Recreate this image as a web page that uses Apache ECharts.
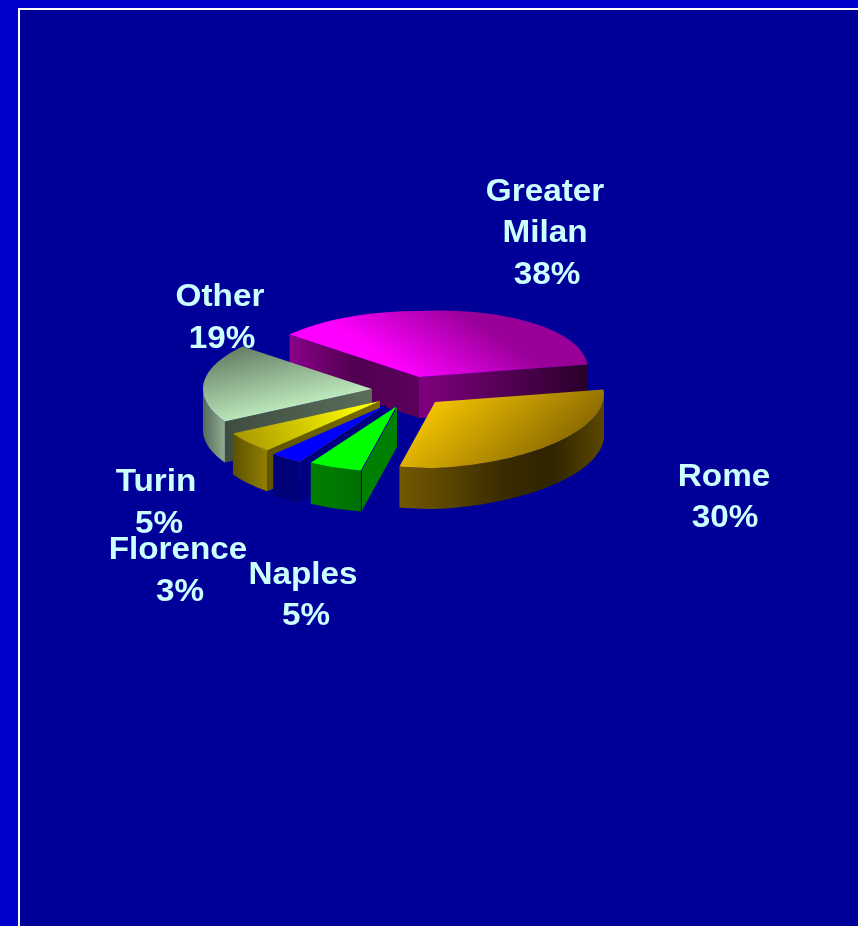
<!DOCTYPE html>
<html><head><meta charset="utf-8">
<style>html,body{margin:0;padding:0;background:#0000cc}#c{width:858px;height:926px}</style>
<script src="https://cdn.jsdelivr.net/npm/echarts@6/dist/echarts.min.js"></script>
</head><body><div id="c"></div>
<script>
// ---- data ----
const categories = ['Greater\nMilan', 'Rome', 'Naples', 'Florence', 'Turin', 'Other'];
const values = [38, 30, 5, 3, 5, 19];

// ---- layout ----
const startAngle = -50, perspectiveWarp = 9.5, rightTilt = 0.045, rx = 169, ry = 66, depth = 41;
const apexes = [[419,377],[435,402],[397,406],[386,405],[380,401],[372,389]];
const nameCentres = [[545,213],[724,477],[303,575],[178,550],[156,482],[220,297]];
const valueCentres = [[547,275],[725,518],[306,616],[180,592],[159,524],[222,339]];
const drawOrder = [0,5,4,3,2,1];

// ---- styles: gradient [x1,y1,x2,y2,[colours]] ----
const topFill = [
  [415,380,462,310,['#ff00ff','#980098']],
  [440,392,520,482,['#f7c600','#8f6e00']],
  [0,0,1,0,['#00ff00','#00ff00']],
  [0,0,1,0,['#0000ff','#0000ff']],
  [235,445,362,398,['#a89400','#ffff00']],
  [300,405,284,340,['#bce8bc','#6a846a']]
];
const outerFill = [
  [0,0,1,0,['#800080','#800080']],
  [399,0,603,0,['#735800','#594400','#3a2c00','#2e2400','#5c4600']],
  [310,0,362,0,['#008000','#007000']],
  [272,0,301,0,['#000078','#000078']],
  [232,0,266,0,['#5a5000','#8f7e00']],
  [203,0,223,0,['#55695a','#8ca88c']]
];
const startWallFill = [
  [290,0,419,0,['#8a008a','#500050','#5c005c']],
  [0,0,1,0,['#000000','#000000']],
  [362,0,397,0,['#008000','#008000']],
  [301,0,386,0,['#000080','#000080']],
  [266,0,380,0,['#5e5400','#7a6c00']],
  [223,0,372,0,['#3e4c3e','#5a6e5a']]
];
const endWallFill = [
  [419,0,586,0,['#800080','#2a002a']],
  [0,0,1,0,['#000000','#000000']],[0,0,1,0,['#000000','#000000']],[0,0,1,0,['#000000','#000000']],
  [0,0,1,0,['#000000','#000000']],[0,0,1,0,['#000000','#000000']]
];
const labelColor = '#ccffff';

// ---- geometry from values ----
const total = values.reduce((a,b)=>a+b,0);
const warp = a => { const t=(a-startAngle)/360; return a-perspectiveWarp*t*t*Math.pow(Math.sin(Math.PI*t),3); };
const spans = [];
values.reduce((acc,v,i)=>{ const e=acc+v/total*360; spans[i]=[warp(acc),warp(e)]; return e; }, startAngle);

const grad = g => {
  const cols = g[4];
  return new echarts.graphic.LinearGradient(g[0],g[1],g[2],g[3],
    cols.map((c,k)=>({offset:k/(cols.length-1),color:c})), true);
};
const rim = (c,a) => { const t=a*Math.PI/180, dx=rx*Math.sin(t);
  return [c[0]+dx, c[1]-ry*Math.cos(t)-rightTilt*Math.max(dx,0)]; };
const arc = (c,a,b) => { const pts=[]; const n=Math.max(2,Math.ceil((b-a)/2));
  for(let k=0;k<=n;k++) pts.push(rim(c,a+(b-a)*k/n)); return pts; };
const down = p => [p[0],p[1]+depth];
const poly = (points,fill,extra) => ({type:'polygon',shape:{points},style:Object.assign({fill,stroke:null},extra||{})});

function sliceItem(params){
  const i = drawOrder[params.dataIndex], c = apexes[i], s = spans[i][0], e = spans[i][1];
  const ch = [];
  const sinS = Math.sin(s*Math.PI/180), sinE = Math.sin(e*Math.PI/180);
  if (sinS < 0) { const r=rim(c,s); ch.push(poly([c,r,down(r),down(c)],grad(startWallFill[i]))); }
  if (sinE > 0) { const r=rim(c,e); ch.push(poly([c,r,down(r),down(c)],grad(endWallFill[i]))); }
  const fa = Math.max(s,90), fb = Math.min(e,270);
  if (fb > fa) { const a=arc(c,fa,fb); ch.push(poly(a.concat(a.slice().reverse().map(down)),grad(outerFill[i]))); }
  ch.push(poly([c].concat(arc(c,s,e)),grad(topFill[i])));
  if (categories[i]==='Naples') { const r=rim(c,s);
    ch.push({type:'polyline',shape:{points:[c,r,down(r)]},style:{stroke:'#0000a0',lineWidth:1,fill:null}}); }
  return {type:'group',children:ch};
}
function labelItem(params){
  const i = params.dataIndex;
  const text = (t,p,lh) => ({type:'text',x:p[0],y:p[1],scaleX:1.04,silent:true,
    style:{text:t,fill:labelColor,font:'bold 32px "Liberation Sans", Arial, sans-serif',
      align:'center',verticalAlign:'middle',lineHeight:lh}});
  return {type:'group',children:[text(categories[i],nameCentres[i],41),text(values[i]+'%',valueCentres[i],41)]};
}

const chart = echarts.init(document.getElementById('c'),null,{renderer:'canvas'});
chart.setOption({
  animation:false,
  backgroundColor:'#0000cc',
  graphic:[{type:'rect',z:-10,shape:{x:19,y:9,width:900,height:1000},
    style:{fill:'#000099',stroke:'#ffffff',lineWidth:2},silent:true}],
  series:[
    {type:'custom',coordinateSystem:'none',z:2,silent:true,
     data:drawOrder.map(i=>values[i]),renderItem:sliceItem},
    {type:'custom',coordinateSystem:'none',z:3,silent:true,
     data:values,renderItem:labelItem}
  ]
});
</script></body></html>
